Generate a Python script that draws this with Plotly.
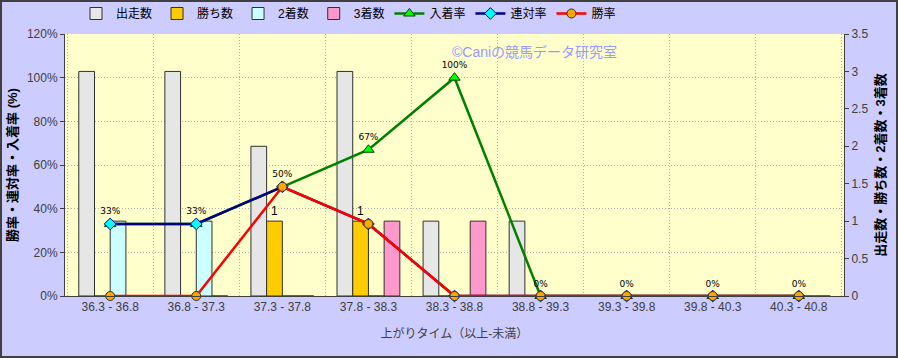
import plotly.graph_objects as go

categories = ["36.3 - 36.8", "36.8 - 37.3", "37.3 - 37.8", "37.8 - 38.3", "38.3 - 38.8",
              "38.8 - 39.3", "39.3 - 39.8", "39.8 - 40.3", "40.3 - 40.8"]
runs = [3, 3, 2, 3, 1, 1, 0, 0, 0]          # 出走数
wins = [0, 0, 1, 1, 0, 0, 0, 0, 0]          # 勝ち数
seconds = [1, 1, 0, 0, 0, 0, 0, 0, 0]       # 2着数
thirds = [0, 0, 0, 1, 1, 0, 0, 0, 0]        # 3着数
place_rate = [0.33, 0.33, 0.50, 0.67, 1.00, 0, 0, 0, 0]   # 入着率
quinella_rate = [0.33, 0.33, 0.50, 0.33, 0, 0, 0, 0, 0]   # 連対率
win_rate = [0, 0, 0.50, 0.33, 0, 0, 0, 0, 0]              # 勝率
place_labels = ["33%", "33%", "50%", "67%", "100%", "0%", "0%", "0%", "0%"]
win_labels = [str(v) if v else "" for v in wins]

FONT = "Arial, Liberation Sans, Noto Sans CJK JP"
edge = dict(color="#303030", width=1)

fig = go.Figure()
fig.add_trace(go.Bar(name="出走数", x=categories, y=runs, yaxis="y",
                     marker=dict(color="#E6E6E6", line=edge)))
fig.add_trace(go.Bar(name="勝ち数", x=categories, y=wins, yaxis="y",
                     text=win_labels, textposition="outside", cliponaxis=False,
                     textfont=dict(size=12, color="#000000"),
                     marker=dict(color="#FFCC00", line=edge)))
fig.add_trace(go.Bar(name="2着数", x=categories, y=seconds, yaxis="y",
                     marker=dict(color="#CCFFFF", line=edge)))
fig.add_trace(go.Bar(name="3着数", x=categories, y=thirds, yaxis="y",
                     marker=dict(color="#FF99CC", line=edge)))

fig.add_trace(go.Scatter(name="入着率", x=categories, y=place_rate, yaxis="y2",
                         mode="lines+markers+text", text=place_labels,
                         textposition="top center", cliponaxis=False,
                         textfont=dict(size=9, color="#000000", family="Arial Black, DejaVu Sans"),
                         line=dict(color="#008000", width=2.5),
                         marker=dict(symbol="triangle-up", size=10, color="#00FF00",
                                     line=dict(color="#004000", width=1))))
fig.add_trace(go.Scatter(name="連対率", x=categories, y=quinella_rate, yaxis="y2",
                         mode="lines+markers", cliponaxis=False,
                         line=dict(color="#000080", width=2.5),
                         marker=dict(symbol="diamond", size=9, color="#00FFFF",
                                     line=dict(color="#000080", width=1))))
fig.add_trace(go.Scatter(name="勝率", x=categories, y=win_rate, yaxis="y2",
                         mode="lines+markers", cliponaxis=False,
                         line=dict(color="#FF0000", width=2.5),
                         marker=dict(symbol="circle", size=9, color="#FFA500",
                                     line=dict(color="#303030", width=1))))

W, H = 898, 358
ml, mr, mt, mb = 65, 54, 34, 62
pw, ph = W - ml - mr, H - mt - mb

fig.update_layout(
    width=W, height=H,
    margin=dict(l=ml, r=mr, t=mt, b=mb, pad=0, autoexpand=False),
    paper_bgcolor="#CCCCFF", plot_bgcolor="#FFFFCC",
    font=dict(family=FONT, size=12, color="#000000"),
    barmode="group", bargap=0.27, bargroupgap=0,
    showlegend=True,
    legend=dict(orientation="h", x=(76 - ml) / pw, xanchor="left",
                y=1.0 + 6 / ph, yanchor="bottom", bgcolor="rgba(0,0,0,0)",
                font=dict(size=12, color="#000000"), traceorder="normal",
                itemwidth=30, tracegroupgap=0),
    xaxis=dict(type="category", tickson="boundaries", showgrid=True,
               gridcolor="#B0B0B0", griddash="1px,2px", gridwidth=1,
               showline=True, linecolor="#404040", linewidth=1, ticks="",
               tickfont=dict(size=12, color="#404040"),
               title=dict(text="上がりタイム（以上-未満）", font=dict(size=12, color="#404040"),
                          standoff=16)),
    yaxis=dict(side="right", range=[0, 3.5], dtick=0.5, showgrid=False, zeroline=False,
               showline=True, linecolor="#404040", linewidth=1, ticks="outside",
               ticklen=4, tickcolor="#404040",
               tickfont=dict(size=12, color="#404040"),
               title=dict(text="<b>出走数・勝ち数・2着数・3着数</b>",
                          font=dict(size=13, color="#000000"), standoff=8)),
    yaxis2=dict(overlaying="y", side="left", range=[0, 1.2], dtick=0.2, tickformat=".0%",
                showgrid=True, gridcolor="#B0B0B0", griddash="1px,2px", gridwidth=1,
                zeroline=False, showline=True, linecolor="#404040", linewidth=1,
                ticks="outside", ticklen=4, tickcolor="#404040",
                tickfont=dict(size=12, color="#404040"),
                title=dict(text="<b>勝率・連対率・入着率 (%)</b>",
                           font=dict(size=13, color="#000000"), standoff=6)),
    annotations=[dict(text="©Caniの競馬データ研究室", xref="paper", yref="paper",
                      x=(450 - ml) / pw, y=(296 - 52) / ph, xanchor="left", yanchor="middle",
                      showarrow=False, font=dict(size=14, color="#9999FF"))],
    shapes=[dict(type="rect", xref="paper", yref="paper", layer="above",
                 x0=(1 - ml) / pw, x1=(W - 1 - ml) / pw,
                 y0=(296 - (H - 1)) / ph, y1=(296 - 1) / ph,
                 line=dict(color="#404040", width=2))],
)

fig.write_html("out.html")
